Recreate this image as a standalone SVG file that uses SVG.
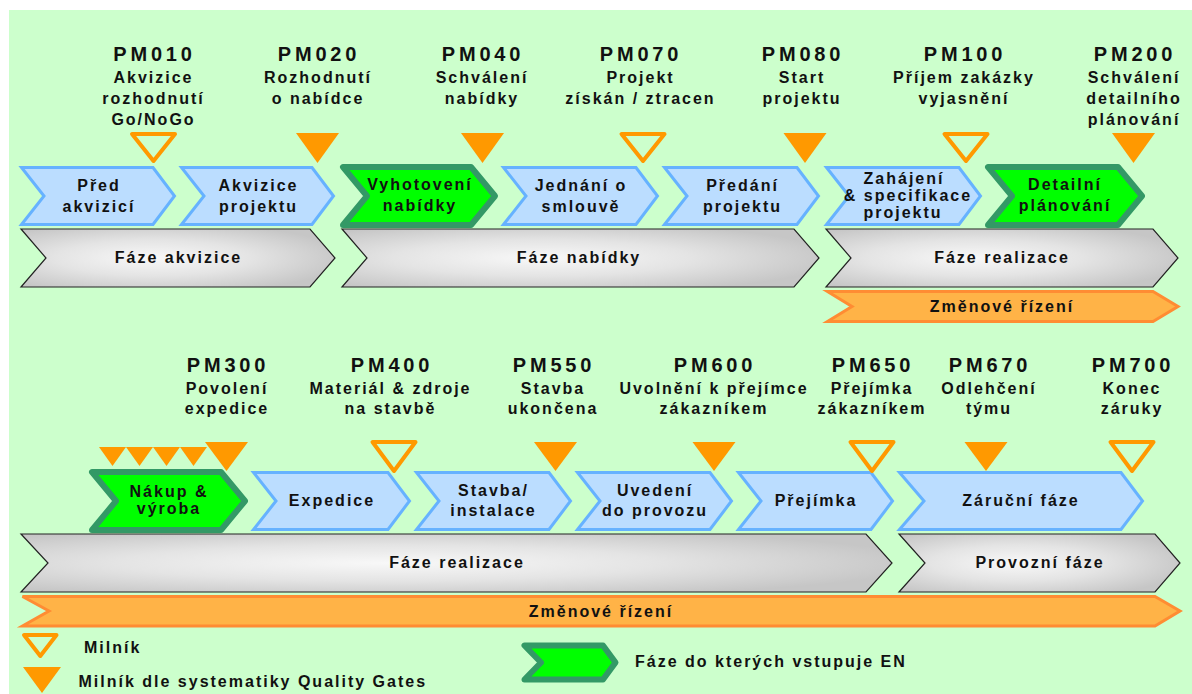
<svg xmlns="http://www.w3.org/2000/svg" width="1192" height="694" viewBox="0 0 1192 694">
  <defs>
    <radialGradient id="grayFill" cx="0.42" cy="0.5" r="0.62">
      <stop offset="0" stop-color="#F8F8F8"/>
      <stop offset="0.5" stop-color="#E4E4E4"/>
      <stop offset="1" stop-color="#C6C6C6"/>
    </radialGradient>
    <style>
      text { font-family: "Liberation Sans", Arial, sans-serif; font-weight: bold; fill: #111; }
      .c { text-anchor: middle; }
      .pm { font-size: 20px; letter-spacing: 3.8px; }
      .t { font-size: 16px; letter-spacing: 2px; }
      .blue { fill: #BBDDFF; stroke: #66B2FF; stroke-width: 3; }
      .green { fill: #00FF00; stroke: #339966; stroke-width: 6; stroke-linejoin: round; }
      .gray { fill: url(#grayFill); stroke: #222; stroke-width: 1.2; }
      .change { fill: #FFB347; stroke: #FF8C33; stroke-width: 3; }
      .ms { fill: none; stroke: #FF9900; stroke-width: 4; stroke-linejoin: round; }
      .qg { fill: #FF9900; }
    </style>
  </defs>

  <rect x="9" y="10" width="1183" height="684" fill="#CCFFCC"/>

  <!-- upper row: work packages -->
  <g id="pred-akvizici">
    <path class="blue" d="M21.5,167.5 L153,167.5 L174.5,196 L153,224.5 L21.5,224.5 L44,196 Z"/>
    <text class="t c" x="99" y="191">Před</text>
    <text class="t c" x="99" y="212">akvizicí</text>
  </g>
  <g id="akvizice-projektu">
    <path class="blue" d="M181.5,167.5 L312,167.5 L333.5,196 L312,224.5 L181.5,224.5 L204,196 Z"/>
    <text class="t c" x="258.5" y="191">Akvizice</text>
    <text class="t c" x="258.5" y="212">projektu</text>
  </g>
  <g id="vyhotoveni-nabidky">
    <path class="green" d="M343,167 L471,167 L495,196 L471,225 L343,225 L367,196 Z"/>
    <text class="t c" x="420" y="190">Vyhotovení</text>
    <text class="t c" x="420" y="211">nabídky</text>
  </g>
  <g id="jednani-o-smlouve">
    <path class="blue" d="M503.5,167.5 L636,167.5 L657.5,196 L636,224.5 L503.5,224.5 L526,196 Z"/>
    <text class="t c" x="581" y="191">Jednání o</text>
    <text class="t c" x="581" y="212">smlouvě</text>
  </g>
  <g id="predani-projektu">
    <path class="blue" d="M664.5,167.5 L797,167.5 L818.5,196 L797,224.5 L664.5,224.5 L687,196 Z"/>
    <text class="t c" x="742.5" y="191">Předání</text>
    <text class="t c" x="742.5" y="212">projektu</text>
  </g>
  <g id="zahajeni-specifikace">
    <path class="blue" d="M826.5,167.5 L959,167.5 L980.5,196 L959,224.5 L826.5,224.5 L849,196 Z"/>
    <text class="t c" x="904" y="184">Zahájení</text>
    <text class="t c" x="908" y="201">&amp; specifikace</text>
    <text class="t c" x="903" y="218">projektu</text>
  </g>
  <g id="detailni-planovani">
    <path class="green" d="M988,167 L1118,167 L1142,196 L1118,225 L988,225 L1012,196 Z"/>
    <text class="t c" x="1065" y="190">Detailní</text>
    <text class="t c" x="1065" y="211">plánování</text>
  </g>

  <!-- upper row: phases -->
  <g id="faze-akvizice">
    <path class="gray" d="M21,229 L310,229 L335,258 L310,287 L21,287 L46,258 Z"/>
    <text class="t c" x="178.5" y="263">Fáze akvizice</text>
  </g>
  <g id="faze-nabidky">
    <path class="gray" d="M342,229 L794,229 L819,258 L794,287 L342,287 L367,258 Z"/>
    <text class="t c" x="579" y="263">Fáze nabídky</text>
  </g>
  <g id="faze-realizace-1">
    <path class="gray" d="M826,229 L1153,229 L1178,258 L1153,287 L826,287 L851,258 Z"/>
    <text class="t c" x="1002" y="263">Fáze realizace</text>
  </g>
  <g id="zmenove-rizeni-1">
    <path class="change" d="M827.5,291.5 L1153,291.5 L1178,306.5 L1153,321.5 L827.5,321.5 L852,306.5 Z"/>
    <text class="t c" x="1002" y="312">Změnové řízení</text>
  </g>

  <!-- upper row: milestones -->
  <g id="pm010">
    <text class="pm c" x="154.5" y="61">PM010</text>
    <text class="t c" x="153.5" y="83">Akvizice</text>
    <text class="t c" x="153.5" y="104">rozhodnutí</text>
    <text class="t c" x="153.5" y="125">Go/NoGo</text>
    <path class="ms" d="M132,134 L175,134 L153.5,161 Z"/>
  </g>
  <g id="pm020">
    <text class="pm c" x="319" y="61">PM020</text>
    <text class="t c" x="318" y="83">Rozhodnutí</text>
    <text class="t c" x="318" y="104">o nabídce</text>
    <path class="qg" d="M296,133 L339,133 L317.5,163 Z"/>
  </g>
  <g id="pm040">
    <text class="pm c" x="483" y="61">PM040</text>
    <text class="t c" x="482" y="83">Schválení</text>
    <text class="t c" x="482" y="104">nabídky</text>
    <path class="qg" d="M461,133 L504,133 L482.5,163 Z"/>
  </g>
  <g id="pm070">
    <text class="pm c" x="641" y="61">PM070</text>
    <text class="t c" x="640.5" y="83">Projekt</text>
    <text class="t c" x="640.5" y="104">získán / ztracen</text>
    <path class="ms" d="M621.5,134 L664.5,134 L643,161 Z"/>
  </g>
  <g id="pm080">
    <text class="pm c" x="803" y="61">PM080</text>
    <text class="t c" x="802" y="83">Start</text>
    <text class="t c" x="802" y="104">projektu</text>
    <path class="qg" d="M783.5,133 L826.5,133 L805,163 Z"/>
  </g>
  <g id="pm100">
    <text class="pm c" x="965" y="61">PM100</text>
    <text class="t c" x="964" y="83">Příjem zakázky</text>
    <text class="t c" x="964" y="104">vyjasnění</text>
    <path class="ms" d="M944.5,134 L987.5,134 L966,161 Z"/>
  </g>
  <g id="pm200">
    <text class="pm c" x="1135" y="61">PM200</text>
    <text class="t c" x="1134" y="83">Schválení</text>
    <text class="t c" x="1134" y="104">detailního</text>
    <text class="t c" x="1134" y="125">plánování</text>
    <path class="qg" d="M1112,133 L1155,133 L1133.5,163 Z"/>
  </g>

  <!-- lower row: work packages -->
  <g id="nakup-vyroba">
    <path class="green" d="M92,472 L221,472 L245,501 L221,530 L92,530 L116,501 Z"/>
    <text class="t c" x="169" y="497">Nákup &amp;</text>
    <text class="t c" x="169" y="514">výroba</text>
  </g>
  <g id="expedice">
    <path class="blue" d="M253.5,472.5 L388,472.5 L409.5,501 L388,529.5 L253.5,529.5 L276,501 Z"/>
    <text class="t c" x="332" y="506">Expedice</text>
  </g>
  <g id="stavba-instalace">
    <path class="blue" d="M416.5,472.5 L549,472.5 L570.5,501 L549,529.5 L416.5,529.5 L439,501 Z"/>
    <text class="t c" x="493.5" y="496">Stavba/</text>
    <text class="t c" x="493.5" y="516">instalace</text>
  </g>
  <g id="uvedeni-do-provozu">
    <path class="blue" d="M577.5,472.5 L710,472.5 L731.5,501 L710,529.5 L577.5,529.5 L600,501 Z"/>
    <text class="t c" x="655" y="496">Uvedení</text>
    <text class="t c" x="655" y="516">do provozu</text>
  </g>
  <g id="prejimka">
    <path class="blue" d="M738.5,472.5 L871,472.5 L892.5,501 L871,529.5 L738.5,529.5 L761,501 Z"/>
    <text class="t c" x="816" y="506">Přejímka</text>
  </g>
  <g id="zarucni-faze">
    <path class="blue" d="M899.5,472.5 L1121,472.5 L1142.5,501 L1121,529.5 L899.5,529.5 L924,501 Z"/>
    <text class="t c" x="1021" y="506">Záruční fáze</text>
  </g>

  <!-- lower row: phases -->
  <g id="faze-realizace-2">
    <path class="gray" d="M21,534 L866,534 L892,563 L866,592 L21,592 L48,563 Z"/>
    <text class="t c" x="457" y="568">Fáze realizace</text>
  </g>
  <g id="provozni-faze">
    <path class="gray" d="M899,534 L1155,534 L1180,563 L1155,592 L899,592 L925,563 Z"/>
    <text class="t c" x="1040" y="568">Provozní fáze</text>
  </g>
  <g id="zmenove-rizeni-2">
    <path class="change" d="M22.5,596.5 L1155,596.5 L1180,611 L1155,626 L22.5,626 L49,611 Z"/>
    <text class="t c" x="601" y="617">Změnové řízení</text>
  </g>

  <!-- lower row: milestones -->
  <g id="pm300">
    <text class="pm c" x="228" y="372">PM300</text>
    <text class="t c" x="227" y="394">Povolení</text>
    <text class="t c" x="227" y="414">expedice</text>
    <path class="qg" d="M99,447 L126,447 L112.5,466 Z"/>
    <path class="qg" d="M126,447 L153,447 L139.5,466 Z"/>
    <path class="qg" d="M153,447 L180,447 L166.5,466 Z"/>
    <path class="qg" d="M180,447 L207,447 L193.5,466 Z"/>
    <path class="qg" d="M205,442 L248,442 L226.5,471 Z"/>
  </g>
  <g id="pm400">
    <text class="pm c" x="392" y="372">PM400</text>
    <text class="t c" x="390.5" y="394">Materiál &amp; zdroje</text>
    <text class="t c" x="390.5" y="414">na stavbě</text>
    <path class="ms" d="M372.5,442 L415.5,442 L394,471 Z"/>
  </g>
  <g id="pm550">
    <text class="pm c" x="554" y="372">PM550</text>
    <text class="t c" x="553" y="394">Stavba</text>
    <text class="t c" x="553" y="414">ukončena</text>
    <path class="qg" d="M534,442 L577,442 L555.5,471 Z"/>
  </g>
  <g id="pm600">
    <text class="pm c" x="715" y="372">PM600</text>
    <text class="t c" x="714" y="394">Uvolnění k přejímce</text>
    <text class="t c" x="714" y="414">zákazníkem</text>
    <path class="qg" d="M692.5,442 L735.5,442 L714,471 Z"/>
  </g>
  <g id="pm650">
    <text class="pm c" x="873" y="372">PM650</text>
    <text class="t c" x="872" y="394">Přejímka</text>
    <text class="t c" x="872" y="414">zákazníkem</text>
    <path class="ms" d="M850.5,442 L893.5,442 L872,471 Z"/>
  </g>
  <g id="pm670">
    <text class="pm c" x="990" y="372">PM670</text>
    <text class="t c" x="989" y="394">Odlehčení</text>
    <text class="t c" x="989" y="414">týmu</text>
    <path class="qg" d="M964.5,442 L1007.5,442 L986,471 Z"/>
  </g>
  <g id="pm700">
    <text class="pm c" x="1133" y="372">PM700</text>
    <text class="t c" x="1132" y="394">Konec</text>
    <text class="t c" x="1132" y="414">záruky</text>
    <path class="ms" d="M1110.5,442 L1153.5,442 L1132,471 Z"/>
  </g>

  <!-- legend -->
  <g id="legend-milnik">
    <path class="ms" d="M24,635 L56.5,635 L40.3,656 Z"/>
    <text class="t" x="84" y="653">Milník</text>
  </g>
  <g id="legend-quality-gates">
    <path class="qg" d="M23,667 L61,667 L42,693 Z"/>
    <text class="t" x="78.5" y="687">Milník dle systematiky Quality Gates</text>
  </g>
  <g id="legend-en">
    <path class="green" d="M524.5,645.5 L603,645.5 L615.5,662.5 L603,679.5 L524.5,679.5 L541,662.5 Z"/>
    <text class="t" x="635" y="667">Fáze do kterých vstupuje EN</text>
  </g>
</svg>
